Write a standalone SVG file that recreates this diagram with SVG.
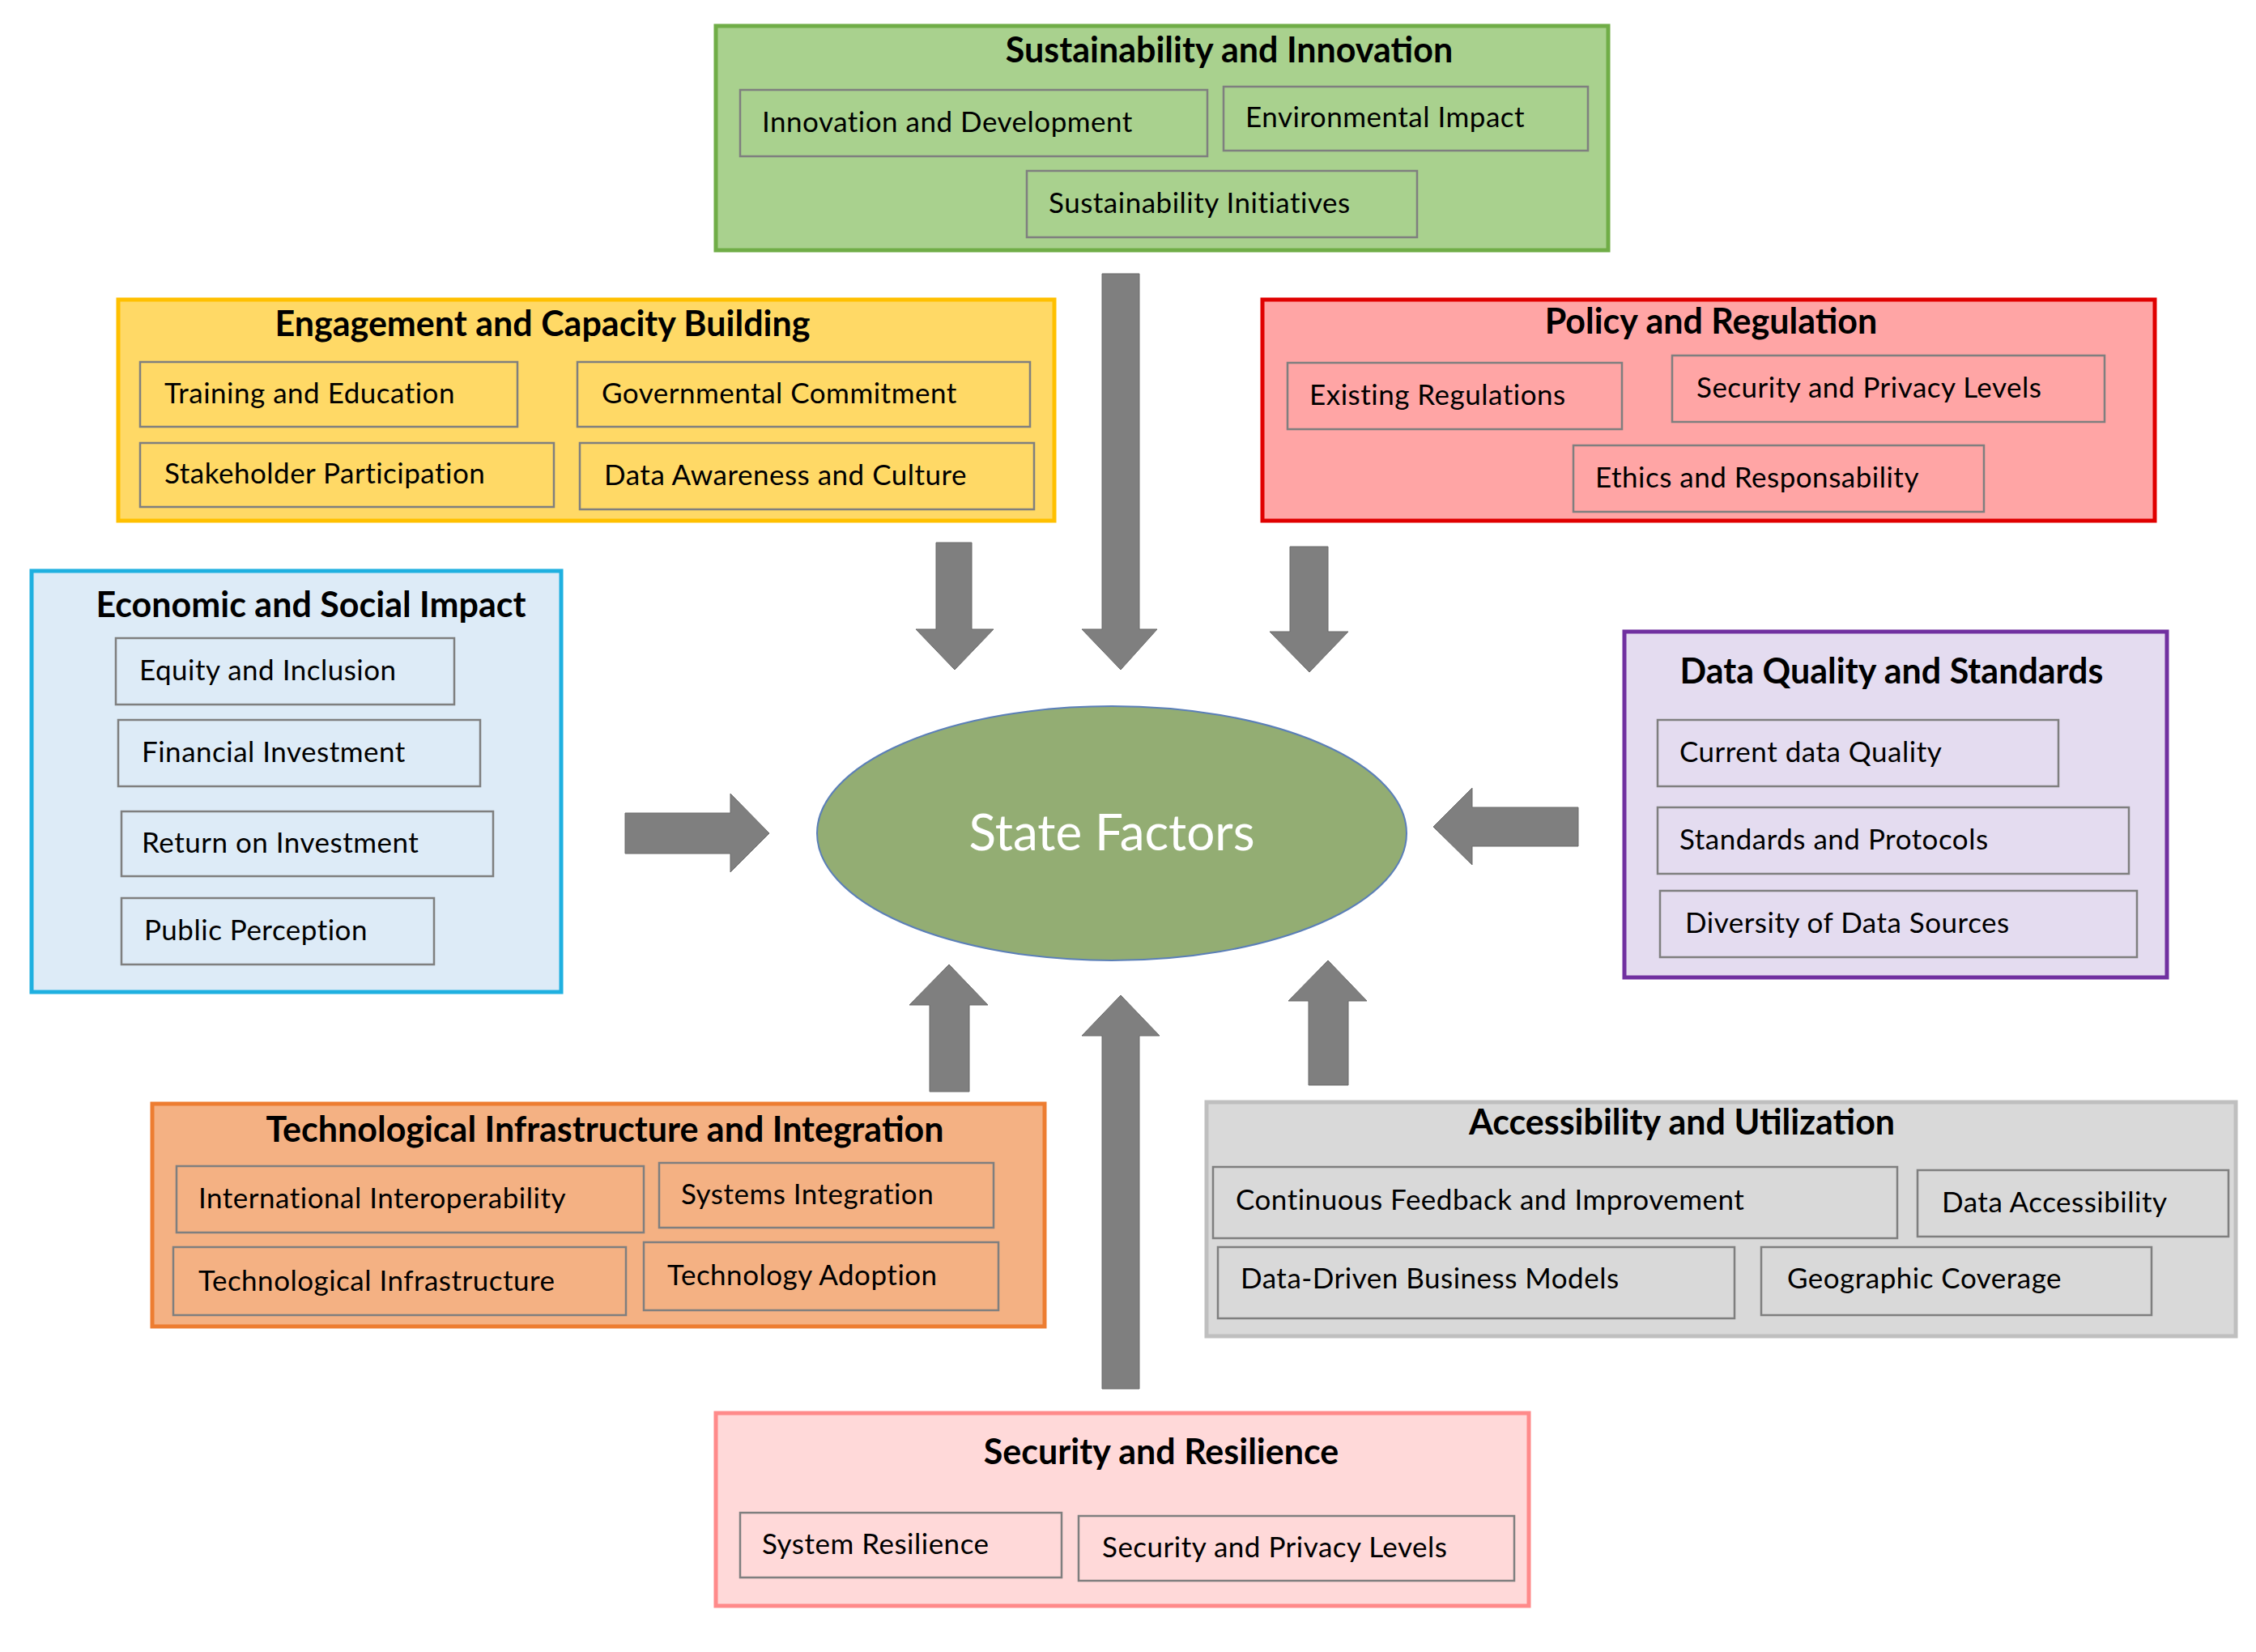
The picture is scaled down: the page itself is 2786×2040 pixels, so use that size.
<svg xmlns="http://www.w3.org/2000/svg" width="2786" height="2040" viewBox="0 0 2786 2040">
<style>
.t{font-family:Lato,"Open Sans",sans-serif;font-weight:bold;font-size:43px;fill:#000;text-anchor:middle}
.i{font-family:Lato,"Open Sans",sans-serif;font-size:35px;fill:#000;letter-spacing:0.5px}
.s{stroke:#7f7f7f;stroke-width:2.5}
.ar{fill:#7f7f7f;stroke:#6b6b6b;stroke-width:1}
</style>
<rect width="2786" height="2040" fill="#fff"/>
<g id="sustainability">
<rect x="884" y="32" width="1102" height="277" fill="#a9d18e" stroke="#70ad47" stroke-width="5"/>
<text class="t" x="1518" y="77">Sustainability and Innovation</text>
<rect class="s" x="914" y="111" width="577" height="82" fill="#a9d18e"/><text class="i" x="941" y="163">Innovation and Development</text>
<rect class="s" x="1511" y="107" width="450" height="79" fill="#a9d18e"/><text class="i" x="1538" y="157">Environmental Impact</text>
<rect class="s" x="1268" y="211" width="482" height="82" fill="#a9d18e"/><text class="i" x="1295" y="263">Sustainability Initiatives</text>
</g>
<g id="engagement">
<rect x="146" y="370" width="1156" height="273" fill="#ffd966" stroke="#ffc000" stroke-width="5"/>
<text class="t" x="670" y="415">Engagement and Capacity Building</text>
<rect class="s" x="173" y="447" width="466" height="80" fill="#ffd966"/><text class="i" x="203" y="498">Training and Education</text>
<rect class="s" x="713" y="447" width="559" height="80" fill="#ffd966"/><text class="i" x="743" y="498">Governmental Commitment</text>
<rect class="s" x="173" y="547" width="511" height="79" fill="#ffd966"/><text class="i" x="203" y="597">Stakeholder Participation</text>
<rect class="s" x="716" y="547" width="561" height="82" fill="#ffd966"/><text class="i" x="746" y="599">Data Awareness and Culture</text>
</g>
<g id="policy">
<rect x="1559" y="370" width="1102" height="273" fill="#ffa5a5" stroke="#e00000" stroke-width="5"/>
<text class="t" x="2113" y="412">Policy and Regulation</text>
<rect class="s" x="1590" y="448" width="413" height="82" fill="#ffa5a5"/><text class="i" x="1617" y="500">Existing Regulations</text>
<rect class="s" x="2065" y="439" width="534" height="82" fill="#ffa5a5"/><text class="i" x="2095" y="491">Security and Privacy Levels</text>
<rect class="s" x="1943" y="550" width="507" height="82" fill="#ffa5a5"/><text class="i" x="1970" y="602">Ethics and Responsability</text>
</g>
<g id="economic">
<rect x="39" y="705" width="654" height="520" fill="#ddebf7" stroke="#1fb0e0" stroke-width="5"/>
<text class="t" x="384" y="762">Economic and Social Impact</text>
<rect class="s" x="143" y="788" width="418" height="82" fill="#ddebf7"/><text class="i" x="172" y="840">Equity and Inclusion</text>
<rect class="s" x="146" y="889" width="447" height="82" fill="#ddebf7"/><text class="i" x="175" y="941">Financial Investment</text>
<rect class="s" x="150" y="1002" width="459" height="80" fill="#ddebf7"/><text class="i" x="175" y="1053">Return on Investment</text>
<rect class="s" x="150" y="1109" width="386" height="82" fill="#ddebf7"/><text class="i" x="178" y="1161">Public Perception</text>
</g>
<g id="dataquality">
<rect x="2006" y="780" width="670" height="427" fill="#e4dcf0" stroke="#7030a0" stroke-width="5"/>
<text class="t" x="2336" y="844">Data Quality and Standards</text>
<rect class="s" x="2047" y="889" width="495" height="82" fill="#e4dcf0"/><text class="i" x="2074" y="941">Current data Quality</text>
<rect class="s" x="2047" y="997" width="582" height="82" fill="#e4dcf0"/><text class="i" x="2074" y="1049">Standards and Protocols</text>
<rect class="s" x="2050" y="1100" width="589" height="82" fill="#e4dcf0"/><text class="i" x="2081" y="1152">Diversity of Data Sources</text>
</g>
<g id="technological">
<rect x="188" y="1363" width="1102" height="275" fill="#f4b183" stroke="#ed7d31" stroke-width="5"/>
<text class="t" x="747" y="1410">Technological Infrastructure and Integration</text>
<rect class="s" x="218" y="1440" width="577" height="82" fill="#f4b183"/><text class="i" x="245" y="1492">International Interoperability</text>
<rect class="s" x="814" y="1436" width="413" height="80" fill="#f4b183"/><text class="i" x="841" y="1487">Systems Integration</text>
<rect class="s" x="214" y="1540" width="559" height="84" fill="#f4b183"/><text class="i" x="245" y="1594">Technological Infrastructure</text>
<rect class="s" x="795" y="1534" width="438" height="84" fill="#f4b183"/><text class="i" x="824" y="1587">Technology Adoption</text>
</g>
<g id="accessibility">
<rect x="1490" y="1361" width="1271" height="289" fill="#d9d9d9" stroke="#bfbfbf" stroke-width="5"/>
<text class="t" x="2077" y="1401">Accessibility and Utilization</text>
<rect class="s" x="1498" y="1441" width="845" height="88" fill="#d9d9d9"/><text class="i" x="1526" y="1494">Continuous Feedback and Improvement</text>
<rect class="s" x="2368" y="1445" width="384" height="82" fill="#d9d9d9"/><text class="i" x="2398" y="1497">Data Accessibility</text>
<rect class="s" x="1504" y="1540" width="638" height="88" fill="#d9d9d9"/><text class="i" x="1532" y="1591">Data-Driven Business Models</text>
<rect class="s" x="2175" y="1540" width="482" height="84" fill="#d9d9d9"/><text class="i" x="2207" y="1591">Geographic Coverage</text>
</g>
<g id="security">
<rect x="884" y="1745" width="1004" height="238" fill="#ffd9d9" stroke="#ff8a8a" stroke-width="5"/>
<text class="t" x="1434" y="1808">Security and Resilience</text>
<rect class="s" x="914" y="1868" width="397" height="80" fill="#ffd9d9"/><text class="i" x="941" y="1919">System Resilience</text>
<rect class="s" x="1332" y="1872" width="538" height="80" fill="#ffd9d9"/><text class="i" x="1361" y="1923">Security and Privacy Levels</text>
</g>
<g id="state">
<ellipse cx="1373" cy="1029" rx="364" ry="157" fill="#93ad73" stroke="#5b7fb8" stroke-width="2"/>
<text x="1373" y="1050" font-family="Lato,'Open Sans',sans-serif" font-size="62" fill="#fff" text-anchor="middle">State Factors</text>
</g>
<g id="connectors">
<polygon class="ar" points="1361,338 1407,338 1407,777 1429,777 1384,827 1336,777 1361,777"/>
<polygon class="ar" points="1156,670 1200,670 1200,777 1227,777 1179,827 1131,777 1156,777"/>
<polygon class="ar" points="1593,675 1640,675 1640,780 1665,780 1617,830 1568,780 1593,780"/>
<polygon class="ar" points="772,1004 902,1004 902,980 950,1029 902,1077 902,1054 772,1054"/>
<polygon class="ar" points="1949,997 1818,997 1818,973 1770,1021 1818,1068 1818,1045 1949,1045"/>
<polygon class="ar" points="1148,1348 1197,1348 1197,1241 1220,1241 1172,1191 1123,1241 1148,1241"/>
<polygon class="ar" points="1361,1715 1407,1715 1407,1279 1432,1279 1384,1229 1336,1279 1361,1279"/>
<polygon class="ar" points="1616,1340 1665,1340 1665,1236 1688,1236 1640,1186 1591,1236 1616,1236"/>
</g>
</svg>
